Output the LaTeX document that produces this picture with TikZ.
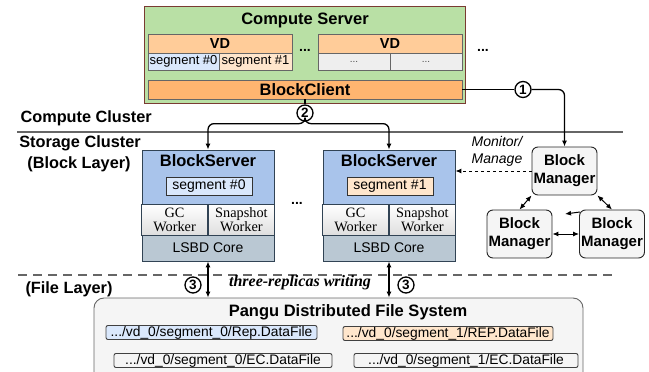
\documentclass[tikz,border=0pt]{standalone}
\usepackage{fontspec}
\setmainfont{Liberation Sans}
\newfontfamily\timesfont{Liberation Serif}
\usetikzlibrary{arrows.meta,positioning,calc}
\definecolor{servergreen}{HTML}{B9E0A5}
\definecolor{serverrim}{HTML}{7A3B32}
\definecolor{vdorange}{HTML}{FFCC99}
\definecolor{clientorange}{HTML}{FFB570}
\definecolor{segblue}{HTML}{DAE8FC}
\definecolor{segpeach}{HTML}{FFE6CC}
\definecolor{cellgrey}{HTML}{EEEEEE}
\definecolor{bsblue}{HTML}{A9C4EB}
\definecolor{corebg}{HTML}{BAC8D3}
\definecolor{boxbg}{HTML}{F5F5F5}
\definecolor{rimgrey}{HTML}{666666}
\definecolor{bsrim}{HTML}{314354}
\newcommand{\pxfont}[2]{\fontsize{#1}{#2}\selectfont}

\begin{document}
\begin{tikzpicture}[x=1pt,y=-1pt,
  box/.style={draw=rimgrey,line width=0.9pt,inner sep=0pt},
  hdr/.style={font=\bfseries\pxfont{16.5}{19}},
  lbl/.style={font=\bfseries\pxfont{16.3}{19}},
  vdhead/.style={box,fill=vdorange,minimum width=144,minimum height=19,
                 font=\bfseries\pxfont{14.5}{16}},
  segcell/.style={box,minimum height=17,font=\pxfont{13}{15}},
  dots/.style={font=\bfseries\pxfont{14}{16}},
  bstop/.style={box,draw=bsrim,fill=bsblue,minimum width=132,minimum height=54},
  segbox/.style={box,draw=black!80,minimum width=86,minimum height=18,
                 font=\pxfont{14}{16}},
  worker/.style={box,draw=bsrim,top color=white,bottom color=black!13,
                 minimum width=66,minimum height=31,align=center,
                 font=\timesfont\pxfont{14.3}{14}},
  core/.style={box,draw=bsrim,fill=corebg,minimum width=132,minimum height=26,
               font=\pxfont{14}{16}},
  mgr/.style={box,draw=black!85,fill=boxbg,rounded corners=6,minimum width=65,
              minimum height=48,align=center,font=\bfseries\pxfont{15}{18}},
  filebox/.style={box,draw=black!75,rounded corners=2,minimum height=14,
                  font=\pxfont{13.8}{15}},
  num/.style={circle,draw=black,line width=1.3pt,fill=white,inner sep=0pt,
              minimum size=16,font=\bfseries\pxfont{13.5}{13.5}},
  conn/.style={line width=1.3pt,>={Latex[length=6pt,width=5pt]}},
  sep/.style={draw=rimgrey,line width=1.4pt},
]
\useasboundingbox (0,0) rectangle (649,372);

% ---------- compute server ----------
\node[box,draw=serverrim,fill=servergreen,minimum width=321,minimum height=97]
  (server) at (304.5,54.5) {};
\node[hdr] (servertitle) at (305,20) {Compute Server};
\node[vdhead] (vd1) at (220,43.5) {VD};
\node[segcell,fill=segblue,minimum width=71] (vd1a) at (183.5,61.5) {segment \#0};
\node[segcell,fill=segpeach,minimum width=73] (vd1b) at (255.5,61.5) {segment \#1};
\node[dots] (vddots) at (305,50) {...};
\node[vdhead] (vd2) at (390,43.5) {VD};
\node[segcell,fill=cellgrey,minimum width=72,text=black!70,font=\pxfont{10}{12}]
  (vd2a) at (354,61.5) {...};
\node[segcell,fill=cellgrey,minimum width=72,text=black!70,font=\pxfont{10}{12}]
  (vd2b) at (426,61.5) {...};
\node[dots] (serverdots) at (483,50) {...};
\node[box,fill=clientorange,minimum width=314,minimum height=19,hdr]
  (client) at (305,89.5) {BlockClient};

% ---------- layer labels ----------
\node[lbl,anchor=west] (computecl) at (17,118) {Compute Cluster};
\draw[sep] (17,132) -- (623,132);
\node[lbl] (storagecl) at (80,143) {Storage Cluster};
\node[lbl] (blocklayer) at (79,164) {(Block Layer)};
\draw[rimgrey,line width=1.2pt,dash pattern=on 9pt off 6pt] (18,275) -- (617,275);
\node[lbl] (filelayer) at (69,289) {(File Layer)};

% ---------- block servers ----------
\foreach \n/\x/\seg/\col in {1/208/0/segblue,2/389/1/segpeach} {
  \node[bstop] (bs\n) at (\x,177) {};
  \node[hdr] (bstitle\n) at (\x,161) {BlockServer};
  \node[segbox,fill=\col] (seg\n) at (\x+1,186) {segment \#\seg};
  \node[worker,anchor=north east] (gc\n) at (\x,204) {GC\\Worker};
  \node[worker,anchor=north west] (snap\n) at (\x,204) {Snapshot\\Worker};
  \node[core] (core\n) at (\x,248) {LSBD Core};
}
\node[dots] (bsdots) at (297,203) {...};

% ---------- block managers ----------
\node[mgr] (bm) at (564.5,171) {Block\\Manager};
\node[mgr] (bml) at (519.5,234) {Block\\Manager};
\node[mgr] (bmr) at (612,234) {Block\\Manager};
\node[font=\itshape\pxfont{14}{17},align=left] (monitor) at (497,151)
  {Monitor/\\Manage};

% ---------- pangu ----------
\node[box,fill=boxbg,rounded corners=10,minimum width=489,minimum height=90]
  (pangu) at (338.5,343) {};
\node[hdr] (pangutitle) at (348,312) {Pangu Distributed File System};
\node[filebox,fill=segblue,minimum width=211] (rep0) at (211.5,332.5)
  {.../vd\_0/segment\_0/Rep.DataFile};
\node[filebox,fill=segpeach,minimum width=210] (rep1) at (448,333.5)
  {.../vd\_0/segment\_1/REP.DataFile};
\node[filebox,fill=boxbg,minimum width=218] (ec0) at (223,360.5)
  {.../vd\_0/segment\_0/EC.DataFile};
\node[filebox,fill=boxbg,minimum width=224] (ec1) at (466,360.5)
  {.../vd\_0/segment\_1/EC.DataFile};

% ---------- connectors ----------
\node[num] (n1) at (523,89.5) {1};
\draw[conn] (client.east) -- (n1);
\draw[conn,->,rounded corners=6] (n1) -| (bm.north);
\node[num] (n2) at (305,113) {2};
\draw[conn] (client.south) -- (n2);
\draw[conn,->,rounded corners=6] (n2.south) -- ++(0,2) -| (bs1.north);
\draw[conn,->,rounded corners=6] (n2.south) -- ++(0,2) -| (bs2.north);
\draw[conn,dashed,->,line width=1pt] (bm.west) -- (bm.west -| bs2.east);
\draw[conn,<->,line width=1pt] (bm.south west) -- (bml.north);
\draw[conn,<->,line width=1pt] (bm.south east) -- (bmr.north);
\draw[conn,<->,line width=1pt] (bml.east) -- (bmr.west);
\coordinate (strayA) at (580,212);
\coordinate (strayB) at (565,214);
\draw[conn,->,line width=1pt] (strayA) -- (strayB);
\draw[conn,<->] (core1.south) -- (core1.south |- pangu.north);
\draw[conn,<->] (core2.south) -- (core2.south |- pangu.north);
\node[num] (n3a) at (193,285) {3};
\node[num] (n3b) at (406,285) {3};
\node[font=\timesfont\bfseries\itshape\pxfont{16}{18}] (replicas) at (300,283)
  {three-replicas writing};
\end{tikzpicture}
\end{document}
